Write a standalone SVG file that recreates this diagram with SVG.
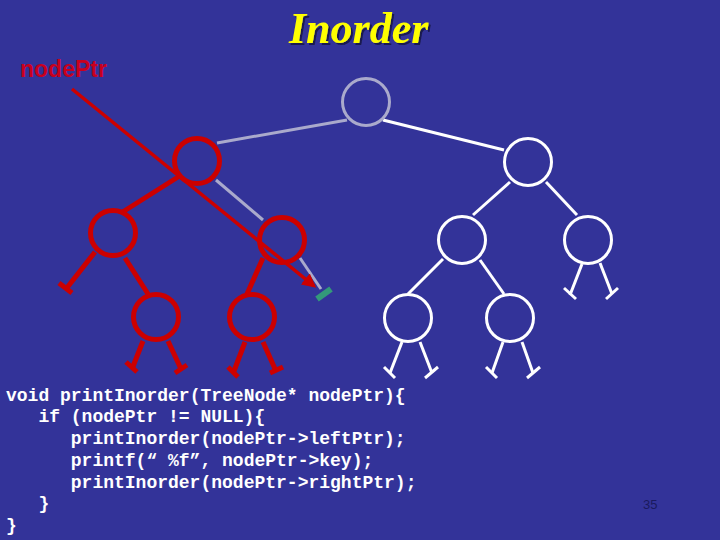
<svg xmlns="http://www.w3.org/2000/svg" width="720" height="540" viewBox="0 0 720 540">
  <defs>
    <style>
      .bg { fill: #333399; }
      .title { font-family: "Liberation Serif", "Times New Roman", serif; font-size: 44px; font-weight: bold; font-style: italic; fill: #FFFF00; }
      .ptrlabel { font-family: "Liberation Sans", Arial, sans-serif; font-size: 23px; font-weight: bold; fill: #C8001E; }
      .code { font-family: "Liberation Mono", "Courier New", monospace; font-size: 18px; font-weight: bold; fill: #FFFFFF; }
      .pagenum { font-family: "Liberation Sans", Arial, sans-serif; font-size: 13px; fill: #1A1A5E; }
      .n-gray { fill: none; stroke: #AAAACC; stroke-width: 3; }
      .n-white { fill: none; stroke: #FFFFFF; stroke-width: 3; }
      .n-red { fill: none; stroke: #CC0000; stroke-width: 5; }
      .e-gray { stroke: #AAAACC; stroke-width: 3; fill: none; }
      .e-white { stroke: #FFFFFF; stroke-width: 3; fill: none; }
      .e-red { stroke: #CC0000; stroke-width: 5; fill: none; }
      .bar-white { stroke: #FFFFFF; stroke-width: 3; }
      .bar-red { stroke: #CC0000; stroke-width: 5; }
      .ptr { stroke: #CC0000; stroke-width: 3.5; fill: none; }
      .null-green { stroke: #33997A; stroke-width: 6; }
    </style>
    <marker id="arrowRed" viewBox="0 0 10 10" refX="8" refY="5" markerWidth="4" markerHeight="4" orient="auto" markerUnits="strokeWidth">
      <path d="M0,0 L10,5 L0,10 z" fill="#CC0000"/>
    </marker>
    <filter id="shadow" x="-10%" y="-10%" width="130%" height="140%">
      <feDropShadow dx="2" dy="2" stdDeviation="0.6" flood-color="#15154A" flood-opacity="0.9"/>
    </filter>
  </defs>

  <rect class="bg" x="0" y="0" width="720" height="540"/>

  <text class="title" x="289" y="43" filter="url(#shadow)">Inorder</text>
  <text class="ptrlabel" x="20" y="77">nodePtr</text>

  <g id="connectors">
    <line class="e-gray" x1="217" y1="143" x2="347" y2="120"/>
    <line class="e-gray" x1="216" y1="180" x2="263" y2="220"/>
    <line class="e-gray" x1="300" y1="258" x2="321" y2="289"/>
    <line class="e-white" x1="383" y1="120" x2="504" y2="150"/>
    <line class="e-white" x1="510" y1="182" x2="473" y2="215"/>
    <line class="e-white" x1="546" y1="182" x2="577" y2="215"/>
    <line class="e-white" x1="443" y1="259" x2="408" y2="294"/>
    <line class="e-white" x1="480" y1="260" x2="504" y2="294"/>
    <line class="e-white" x1="582" y1="264" x2="570" y2="295"/>
    <line class="e-white" x1="600" y1="263" x2="612" y2="294"/>
    <line class="e-white" x1="402" y1="342" x2="390" y2="373"/>
    <line class="e-white" x1="420" y1="342" x2="432" y2="373"/>
    <line class="e-white" x1="503" y1="342" x2="492" y2="373"/>
    <line class="e-white" x1="522" y1="342" x2="533" y2="373"/>
    <line class="bar-white" x1="384" y1="367" x2="395" y2="378"/>
    <line class="bar-white" x1="425" y1="378" x2="438" y2="367"/>
    <line class="bar-white" x1="486" y1="367" x2="497" y2="378"/>
    <line class="bar-white" x1="527" y1="378" x2="540" y2="367"/>
    <line class="bar-white" x1="564" y1="288" x2="576" y2="299"/>
    <line class="bar-white" x1="606" y1="299" x2="618" y2="288"/>
    <line class="e-red" x1="178" y1="177" x2="121" y2="213"/>
    <line class="e-red" x1="263" y1="258" x2="247" y2="294"/>
    <line class="e-red" x1="95" y1="252" x2="66" y2="289"/>
    <line class="e-red" x1="125" y1="258" x2="148" y2="294"/>
    <line class="e-red" x1="143" y1="341" x2="132" y2="369"/>
    <line class="e-red" x1="168" y1="341" x2="181" y2="369"/>
    <line class="e-red" x1="245" y1="342" x2="234" y2="371"/>
    <line class="e-red" x1="263" y1="342" x2="276" y2="371"/>
    <line class="bar-red" x1="59" y1="283" x2="72" y2="293"/>
    <line class="bar-red" x1="126" y1="362" x2="137" y2="372"/>
    <line class="bar-red" x1="175" y1="373" x2="187" y2="365"/>
    <line class="bar-red" x1="228" y1="367" x2="238" y2="377"/>
    <line class="bar-red" x1="270" y1="373" x2="283" y2="367"/>
    <line class="null-green" x1="317" y1="299" x2="331" y2="289"/>
  </g>

  <g id="node-root"><circle class="n-gray" cx="366" cy="102" r="23.5"/></g>
  <g id="node-l1-left"><circle class="n-red" cx="197" cy="161" r="22.5"/></g>
  <g id="node-l1-right"><circle class="n-white" cx="528" cy="162" r="23.5"/></g>
  <g id="node-l2-a"><circle class="n-red" cx="113" cy="233" r="22.5"/></g>
  <g id="node-l2-b"><circle class="n-red" cx="282" cy="240" r="22.5"/></g>
  <g id="node-l2-c"><circle class="n-white" cx="462" cy="240" r="23.5"/></g>
  <g id="node-l2-d"><circle class="n-white" cx="588" cy="240" r="23.5"/></g>
  <g id="node-l3-a"><circle class="n-red" cx="156" cy="317" r="22.5"/></g>
  <g id="node-l3-b"><circle class="n-red" cx="252" cy="317" r="22.5"/></g>
  <g id="node-l3-c"><circle class="n-white" cx="408" cy="318" r="23.5"/></g>
  <g id="node-l3-d"><circle class="n-white" cx="510" cy="318" r="23.5"/></g>

  <g id="pointer">
    <line class="ptr" x1="72" y1="89" x2="314" y2="286" marker-end="url(#arrowRed)"/>
  </g>

  <g id="code">
    <text class="code" x="6" y="401">void printInorder(TreeNode* nodePtr){</text>
    <text class="code" x="38.4" y="422">if (nodePtr != NULL){</text>
    <text class="code" x="70.8" y="444">printInorder(nodePtr-&gt;leftPtr);</text>
    <text class="code" x="70.8" y="466">printf(“ %f”, nodePtr-&gt;key);</text>
    <text class="code" x="70.8" y="488">printInorder(nodePtr-&gt;rightPtr);</text>
    <text class="code" x="38.4" y="509">}</text>
    <text class="code" x="6" y="531">}</text>
  </g>

  <text class="pagenum" x="643" y="509">35</text>
</svg>
